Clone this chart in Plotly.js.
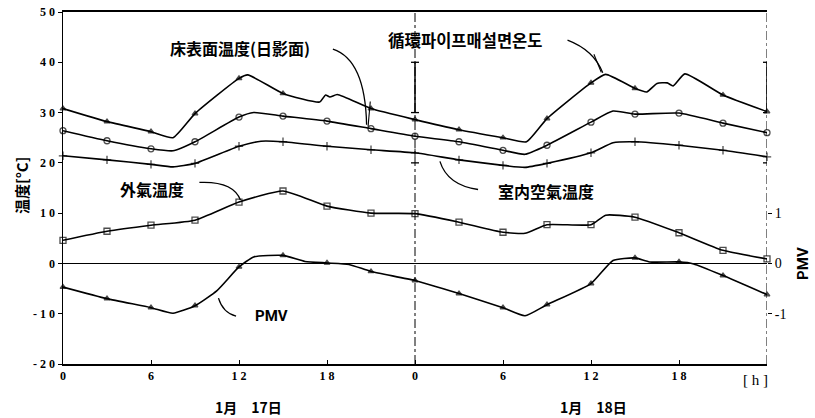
<!DOCTYPE html>
<html>
<head>
<meta charset="utf-8">
<script src="https://cdn.plot.ly/plotly-3.0.1.min.js"></script>
<style>html,body{margin:0;padding:0;background:#fff}#chart{width:815px;height:418px}</style>
</head>
<body>
<div id="chart"></div>
<script>
// ---- data ----
const pipeHours = [0,3,6,7.5,9,12,12.6,15,17.5,17.9,18.2,18.7,21,24,27,30,31.6,33,36,37,39,39.8,40.5,41.2,41.6,42.4,45,48];
const pipeTemp  = [30.8,28.2,26.2,25.0,29.8,36.8,37.5,33.8,32.1,33.5,33.1,33.6,30.8,28.6,26.6,25.0,24.2,28.8,35.9,37.6,34.8,34.1,35.8,35.9,35.3,37.7,33.5,30.2];

const floorHours = [0,3,6,7.5,9,12,13,15,18,21,24,27,30,31.5,33,36,37.5,39,42,45,48];
const floorTemp  = [26.4,24.4,22.8,22.4,24.2,29.1,30.0,29.3,28.3,26.8,25.3,24.2,22.5,21.7,23.5,28.1,30.3,29.7,29.9,27.9,26.0];

const airHours = [0,3,6,7.5,9,12,13.5,15,18,21,24,27,30,31.5,33,36,37.5,39,42,45,48];
const airTemp  = [21.4,20.6,19.7,19.2,19.9,23.3,24.3,24.2,23.3,22.6,22.0,20.6,19.5,19.1,19.9,22.0,24.0,24.2,23.5,22.5,21.2];

const outHours = [0,3,6,9,12,15,18,21,24,27,30,31.5,33,36,37,39,42,45,48];
const outTemp  = [4.6,6.4,7.6,8.6,12.2,14.4,11.4,10.0,9.9,8.2,6.2,6.0,7.7,7.7,9.6,9.2,6.1,2.6,0.9];

const pmvHours = [0,3,6,7.5,9,10.5,12,13,15,16.5,18,19.5,21,24,27,30,31.5,33,36,37.5,39,40,42,43,45,48];
const pmvValue = [-0.47,-0.70,-0.88,-0.99,-0.84,-0.54,-0.07,0.13,0.16,0.04,0.01,-0.02,-0.16,-0.34,-0.60,-0.88,-1.04,-0.82,-0.40,0.06,0.11,0.03,0.03,-0.01,-0.24,-0.62];

const xTickVals = [0,6,12,18,24,30,36,42];
const xTickText = ["0","6","1 2","1 8","0","6","1 2","1 8"];
const yTickVals = [-20,-10,0,10,20,30,40,50];
const yTickText = ["- 2 0","- 1 0","0","1 0","2 0","3 0","4 0","5 0"];
const pmvTickVals = [-1,0,1];
const pmvTickText = ["-1","0","1"];

// ---- drawing ----
const INK = '#000';
function sizes(h, s){ return h.map(v => (v % 3 === 0 ? s : 0)); }
function series(x, y, sym, s, axis){
  return {
    x: x, y: y, type: 'scatter', mode: 'lines+markers', yaxis: axis || 'y',
    line: {color: INK, width: 1.6, shape: 'spline', smoothing: 0.5},
    marker: {symbol: sym, size: sizes(x, s), color: INK, line: {color: INK, width: 1.3}},
    showlegend: false, hoverinfo: 'skip', cliponaxis: false
  };
}

const traces = [
  series(pipeHours, pipeTemp, 'triangle-up', 5),
  series(floorHours, floorTemp, 'circle-open', 6),
  series(airHours, airTemp, 'cross-thin-open', 6),
  series(outHours, outTemp, 'square-open', 6),
  series(pmvHours, pmvValue, 'triangle-up', 5, 'y2')
];

const CJK = '"Noto Sans CJK JP", "Noto Sans CJK KR", sans-serif';
const CJKKR = '"Noto Sans CJK KR", "Noto Sans CJK JP", sans-serif';
const SERIF = '"Liberation Serif", "DejaVu Serif", serif';
const SANS = 'Roboto, "Liberation Sans", sans-serif';

function vline(x, dash){
  return {type:'line', xref:'x', yref:'y', x0:x, x1:x, y0:-20, y1:50, line:{color:INK, width:1, dash:dash}};
}
function cap(x, y){
  return {type:'line', xref:'x', yref:'y', xsizemode:'pixel', xanchor:x, x0:-4, x1:4, y0:y, y1:y, line:{color:INK, width:1.3}};
}
function bar(x){
  return {type:'line', xref:'x', yref:'y', x0:x, x1:x, y0:30, y1:40, line:{color:INK, width:1.5}};
}
function curve(p){
  return {type:'path', xref:'x', yref:'y', path:p, line:{color:INK, width:1.3}};
}

const shapes = [
  vline(24, 'dashdot'), bar(24), cap(24,40), cap(24,30), cap(24,20),
  vline(48, 'dashdot'), bar(48), cap(48,40), cap(48,30), cap(48,20),
  curve('M 18.4,42.6 Q 20.6,40.5 20.7,27.6'),
  {type:'line', xref:'x', yref:'y', x0:20.95, x1:20.8, y0:32.2, y1:27.2, line:{color:INK, width:1.1}},
  curve('M 34.4,44.4 Q 36.2,42.4 36.8,37.9'),
  {type:'line', xref:'x', yref:'y', x0:36.2, x1:36.7, y0:41.6, y1:38.0, line:{color:INK, width:1.1}},
  curve('M 28.3,14.7 Q 26.2,15.6 25.7,20.3'),
  curve('M 9.3,16.1 Q 11.6,16.4 12.1,12.6'),
  curve('M 11.8,-10.5 Q 10.9,-9.8 10.6,-6.9')
];

function note(text, x, y, size, fam, extra){
  return Object.assign({text:text, x:x, y:y, xref:'x', yref:'y', showarrow:false,
    xanchor:'center', yanchor:'middle',
    font:{family:fam, size:size, color:INK, weight:'bold'}}, extra || {});
}
function pnote(text, x, y, size, fam, weight, angle){
  return {text:text, x:x, y:y, xref:'paper', yref:'paper', showarrow:false,
    xanchor:'center', yanchor:'middle', textangle: angle || 0,
    font:{family:fam, size:size, color:INK, weight:weight}};
}

const annotations = [
  note('床表面温度(日影面)', 12.07, 42.8, 16, CJK),
  note('循環파이프매설면온도', 27.4, 44.4, 16.5, CJKKR),
  note('室内空氣温度', 32.9, 14.5, 16, CJK),
  note('外氣温度', 6.1, 14.9, 16, CJK),
  note('PMV', 14.2, -10.4, 15, SANS),
  pnote('1月　17日', 0.263, -0.122, 14, CJK, 'bold'),
  pnote('1月　18日', 0.753, -0.122, 14, CJK, 'bold'),
  pnote('[ h ]', 0.983, -0.045, 15, SERIF, 'normal'),
  pnote('温度[°C]', -0.06, 0.508, 15, CJK, 'bold', -90),
  pnote('PMV', 1.051, 0.287, 15, SANS, 'bold', -90)
];

const layout = {
  width: 815, height: 418,
  margin: {l: 63, r: 48, t: 12, b: 54},
  paper_bgcolor: '#fff', plot_bgcolor: '#fff',
  showlegend: false,
  xaxis: {
    range: [0, 48], tickvals: xTickVals, ticktext: xTickText,
    showgrid: false, zeroline: false, showline: true, mirror: true,
    linecolor: INK, linewidth: 2, ticks: 'inside', ticklen: 4, tickcolor: INK,
    tickfont: {family: SERIF, size: 12, color: INK, weight: 'bold'}
  },
  yaxis: {
    range: [-20, 50], tickvals: yTickVals, ticktext: yTickText,
    showgrid: false, zeroline: true, zerolinecolor: INK, zerolinewidth: 1.6,
    showline: true, linecolor: INK, linewidth: 1.5,
    ticks: 'outside', ticklen: 4, tickcolor: INK,
    tickfont: {family: SERIF, size: 12, color: INK, weight: 'bold'}
  },
  yaxis2: {
    range: [-2, 5], overlaying: 'y', side: 'right',
    tickvals: pmvTickVals, ticktext: pmvTickText,
    showgrid: false, zeroline: false, showline: false,
    ticks: 'outside', ticklen: 4, tickcolor: INK,
    tickfont: {family: SERIF, size: 14, color: INK}
  },
  shapes: shapes,
  annotations: annotations
};

Plotly.newPlot('chart', traces, layout, {displayModeBar: false, staticPlot: true});
</script>
</body>
</html>
